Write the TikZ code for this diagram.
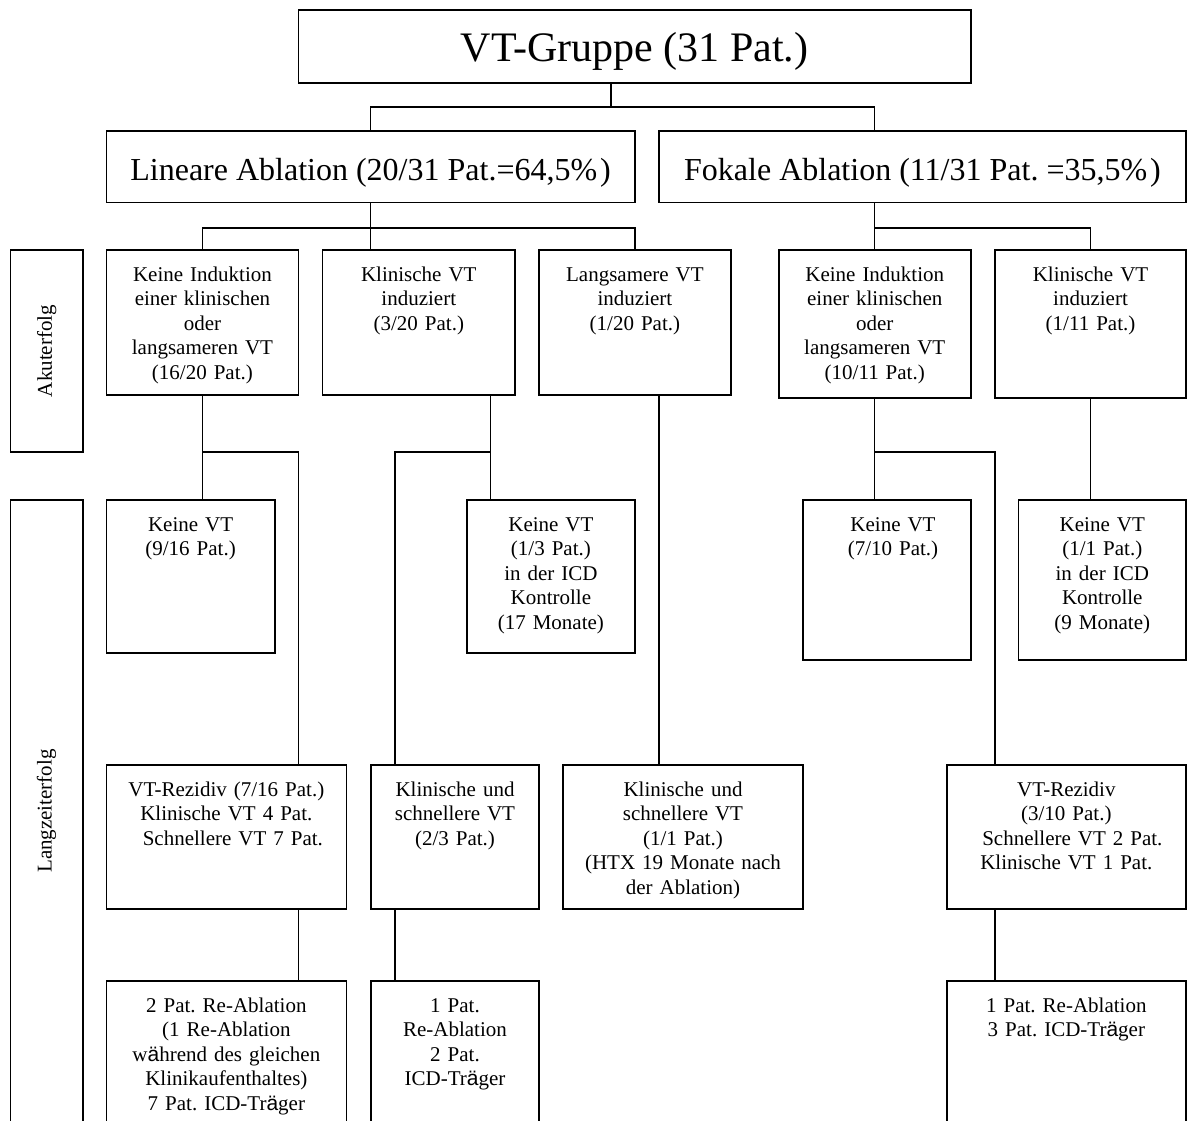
\documentclass[tikz,border=0pt]{standalone}
\usepackage{fontspec}
\setmainfont{Liberation Serif}
\newfontfamily\aefont{Liberation Sans}
\newcommand{\bx}[5]{\node[boxst, minimum width={(#4)-(#2)}, minimum height={(#5)-(#3)}] (#1) at ({((#2)+(#4))/2},{((#3)+(#5))/2}) {};}
\newcommand{\tx}[4]{\node[txt, text width=#3] (#1) at ([yshift=-31pt]#2.north) {#4};}
\begin{document}
\frenchspacing
\begin{tikzpicture}[x=1pt,y=-1pt,
  boxst/.style={draw=black, line width=1.6pt, inner sep=0pt, outer sep=0pt},
  conn/.style={draw=black, line width=1.4pt},
  txt/.style={anchor=base, align=center, inner sep=0pt, font=\fontsize{21}{24.5}\selectfont\frenchspacing},
  bigtxt/.style={anchor=base, inner sep=0pt, font=\fontsize{32}{38}\selectfont\frenchspacing},
  sidetxt/.style={rotate=90, inner sep=0pt, font=\fontsize{21}{24.5}\selectfont}]
\useasboundingbox (0,0) rectangle (1190,1120);
\fill[white] (0,0) rectangle (1190,1120);
\clip (0,0) rectangle (1190,1120);
% boxes
\bx{top}{298.5}{10}{970.8}{82.7}
\bx{lin}{106.4}{131}{634.8}{202.3}
\bx{fok}{658.9}{131}{1186}{202.3}
\bx{akut}{10.3}{250}{83}{452}
\bx{lang}{10.3}{500}{83}{1123}
\bx{a1}{106.4}{250}{298.5}{395}
\bx{a2}{322.6}{250}{515}{395}
\bx{a3}{538.8}{250}{731}{395}
\bx{a4}{778.7}{250}{970.8}{398}
\bx{a5}{995}{250}{1186}{398}
\bx{b1}{106.4}{500}{274.8}{653}
\bx{b2}{467}{500}{634.8}{653}
\bx{b3}{803}{500}{971}{660}
\bx{b4}{1018.6}{500}{1186}{660}
\bx{c1}{106.4}{765}{346.3}{909}
\bx{c2}{371.2}{765}{538.8}{909}
\bx{c3}{563}{765}{803}{909}
\bx{c4}{946.7}{765}{1186}{909}
\bx{d1}{106.4}{981}{346.3}{1123}
\bx{d2}{371.2}{981}{538.8}{1123}
\bx{d4}{946.7}{981}{1186}{1123}
% texts
\node[anchor=base, inner sep=0pt, font=\fontsize{42}{50}\selectfont] (topt) at (634.6,61) {VT-Gruppe (31 Pat.)};
\node[bigtxt] (lint) at (370.6,180) {Lineare Ablation (20/31 Pat.=64,5\%\kern3pt)};
\node[bigtxt] (fokt) at (922.5,180) {Fokale Ablation (11/31 Pat. =35,5\%\kern3pt)};
\node[sidetxt] (akutt) at (akut.center) {Akuterfolg};
\node[sidetxt] (langt) at (46.6,811) {Langzeiterfolg};
\tx{a1t}{a1}{188pt}{Keine Induktion\\einer klinischen\\oder\\langsameren VT\\(16/20 Pat.)}
\tx{a2t}{a2}{188pt}{Klinische VT\\induziert\\(3/20 Pat.)}
\tx{a3t}{a3}{188pt}{Langsamere VT\\induziert\\(1/20 Pat.)}
\tx{a4t}{a4}{188pt}{Keine Induktion\\einer klinischen\\oder\\langsameren VT\\(10/11 Pat.)}
\tx{a5t}{a5}{186pt}{Klinische VT\\induziert\\(1/11 Pat.)}
\tx{b1t}{b1}{164pt}{Keine VT\\(9/16 Pat.)}
\tx{b2t}{b2}{164pt}{Keine VT\\(1/3 Pat.)\\in der ICD\\Kontrolle\\(17 Monate)}
\node[txt, text width=150pt] (b3t) at ([xshift=6pt,yshift=-31pt]b3.north) {Keine VT\\(7/10 Pat.)};
\tx{b4t}{b4}{164pt}{Keine VT\\(1/1 Pat.)\\in der ICD\\Kontrolle\\(9 Monate)}
\tx{c1t}{c1}{236pt}{VT-Rezidiv (7/16 Pat.)\\Klinische VT 4 Pat.\\\hspace*{13pt}Schnellere VT 7 Pat.}
\tx{c2t}{c2}{164pt}{Klinische und\\schnellere VT\\(2/3 Pat.)}
\tx{c3t}{c3}{236pt}{Klinische und\\schnellere VT\\(1/1 Pat.)\\(HTX 19 Monate nach\\der Ablation)}
\tx{c4t}{c4}{236pt}{VT-Rezidiv\\(3/10 Pat.)\\\hspace*{12pt}Schnellere VT 2 Pat.\\Klinische VT 1 Pat.}
\tx{d1t}{d1}{236pt}{2 Pat. Re-Ablation\\(1 Re-Ablation\\w{\aefont ä}hrend des gleichen\\Klinikaufenthaltes)\\7 Pat. ICD-Tr{\aefont ä}ger}
\tx{d2t}{d2}{164pt}{1 Pat.\\Re-Ablation\\2 Pat.\\ICD-Tr{\aefont ä}ger}
\tx{d4t}{d4}{236pt}{1 Pat. Re-Ablation\\3 Pat. ICD-Tr{\aefont ä}ger}
% connectors
\coordinate (jt) at (611,107);
\coordinate (jl) at (0,228);
\coordinate (jy) at (0,452);
\coordinate (p2) at (490.6,0);
\coordinate (q2) at (395,0);
\coordinate (p3) at (659,0);
\coordinate (q4) at (995,0);
\draw[conn] (top.south -| jt) -- (jt);
\draw[conn] (lin.north) |- (jt) -| (fok.north -| a4.north);
\draw[conn] (lin.south) -- (lin.south |- a2.north);
\draw[conn] (a1.north) |- (lin.south |- jl) -| (a3.north);
\draw[conn] (fok.south -| a4.north) -- (a4.north);
\draw[conn] (a4.north |- jl) -| (a5.north);
\draw[conn] (a1.south) -- (a1.south |- b1.north);
\draw[conn] (a1.south |- jy) -| (c1.north -| a1.east);
\draw[conn] (a2.south -| p2) -- (b2.north -| p2);
\draw[conn] (p2 |- jy) -| (c2.north -| q2);
\draw[conn] (a3.south -| p3) -- (c3.north -| p3);
\draw[conn] (a4.south) -- (a4.south |- b3.north);
\draw[conn] (a4.south |- jy) -| (c4.north -| q4);
\draw[conn] (a5.south) -- (a5.south |- b4.north);
\draw[conn] (c1.south -| a1.east) -- (d1.north -| a1.east);
\draw[conn] (c2.south -| q2) -- (d2.north -| q2);
\draw[conn] (c4.south -| q4) -- (d4.north -| q4);
\end{tikzpicture}
\end{document}
